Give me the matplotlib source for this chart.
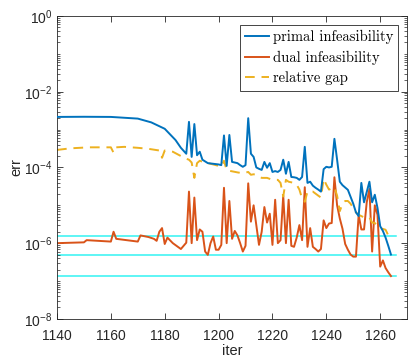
import numpy as np
import matplotlib
matplotlib.use("Agg")
from matplotlib import pyplot as plt
from matplotlib.ticker import LogLocator, NullFormatter, FixedLocator

plt.rcParams['font.family'] = ['Liberation Sans', 'DejaVu Sans']
plt.rcParams['mathtext.fontset'] = 'custom'
plt.rcParams['mathtext.rm'] = 'Liberation Sans'
plt.rcParams['axes.unicode_minus'] = False

# primal infeasibility
iter_p = [1140, 1150, 1160, 1170, 1175, 1180, 1184, 1186, 1188, 1189, 1190, 1191, 1192,
          1193, 1194, 1196, 1200, 1201, 1202, 1203, 1204, 1205, 1207, 1208, 1209, 1210,
          1211, 1212, 1213, 1214, 1215, 1216, 1217, 1218, 1219, 1220, 1221, 1222, 1223,
          1224, 1225, 1226, 1227, 1228, 1229, 1230, 1231, 1232, 1233, 1234, 1235, 1236,
          1237, 1238, 1239, 1240, 1241, 1242, 1243, 1244, 1245, 1246, 1248, 1250, 1251,
          1252, 1253, 1254, 1256, 1257, 1258, 1259, 1260, 1261, 1262, 1263, 1264]
primal = [2.16e-3, 2.18e-3, 2.16e-3, 1.95e-3, 1.55e-3, 1.05e-3, 5.3e-4, 3.3e-4, 2.3e-4,
          1.6e-3, 1.9e-4, 1.4e-3, 2.1e-4, 2.6e-4, 1.6e-4, 1.3e-4, 1.2e-4, 1.15e-4, 7.0e-4,
          1.1e-4, 7.2e-4, 1.4e-4, 1.3e-4, 1.15e-4, 1.04e-4, 1.15e-4, 2.0e-3, 2.3e-4,
          1.9e-4, 1.0e-4, 9.2e-5, 8.6e-5, 1.4e-4, 9.8e-5, 1.3e-4, 7.6e-5, 8.0e-5, 7.6e-5,
          8.6e-5, 1.6e-4, 6.8e-5, 1.4e-4, 5.6e-5, 5.5e-5, 5.3e-5, 4.7e-5, 5.6e-5, 3.5e-4,
          3.9e-5, 4.2e-5, 3.3e-5, 2.9e-5, 2.6e-5, 2.3e-5, 9.0e-5, 1.04e-4, 1.0e-4, 1.04e-4,
          5.7e-4, 1.6e-4, 4.2e-5, 3.4e-5, 2.56e-5, 1.1e-5, 6.5e-6, 5.2e-6, 3.9e-5, 1.2e-5,
          4.2e-5, 1.2e-5, 1.9e-5, 8.5e-6, 2.8e-6, 2.1e-6, 1.4e-6, 8.5e-7, 5.0e-7]

# dual infeasibility
iter_d = [1140, 1150, 1151, 1160, 1161, 1162, 1170, 1171, 1174, 1176, 1177, 1178, 1179,
          1180, 1181, 1183, 1186, 1188, 1189, 1190, 1191, 1192, 1193, 1194, 1195, 1196,
          1197, 1198, 1199, 1200, 1201, 1202, 1203, 1204, 1205, 1206, 1207, 1208, 1209,
          1210, 1211, 1212, 1213, 1214, 1215, 1216, 1217, 1218, 1219, 1220, 1221, 1222,
          1223, 1224, 1225, 1226, 1227, 1228, 1229, 1230, 1231, 1232, 1233, 1234, 1235,
          1236, 1237, 1238, 1239, 1240, 1241, 1242, 1243, 1244, 1245, 1246, 1247, 1248,
          1249, 1250, 1251, 1252, 1253, 1254, 1255, 1256, 1257, 1258, 1259, 1260, 1261,
          1262, 1263, 1264]
dual = [1.0e-6, 1.05e-6, 1.2e-6, 1.1e-6, 2.0e-6, 1.3e-6, 1.1e-6, 1.6e-6, 1.45e-6, 1.3e-6,
        1.15e-6, 2.0e-6, 2.5e-6, 9.5e-7, 1.4e-6, 1.0e-6, 7.0e-7, 1.03e-6, 2.3e-5, 1.0e-6,
        1.6e-5, 1.2e-6, 2.3e-6, 2.0e-6, 6.0e-7, 4.9e-7, 1.0e-6, 1.5e-6, 6.7e-7, 6.7e-7,
        9.0e-7, 2.9e-5, 1.0e-6, 1.3e-5, 1.3e-6, 2.1e-6, 1.6e-6, 1.0e-6, 6.0e-7, 8.5e-7,
        3.8e-5, 3.7e-6, 1.0e-5, 3.0e-6, 9.0e-7, 2.0e-6, 9.0e-6, 3.5e-6, 6.0e-6, 9.0e-7,
        1.4e-5, 1.0e-6, 1.2e-6, 1.8e-5, 1.0e-6, 1.4e-5, 8.5e-7, 8.0e-7, 1.4e-6, 3.0e-6,
        1.2e-6, 3.0e-5, 8.0e-7, 2.5e-6, 8.0e-7, 7.0e-7, 6.0e-7, 7.0e-7, 4.0e-6, 2.5e-6,
        3.3e-6, 3.4e-6, 5.5e-5, 1.0e-5, 4.5e-6, 2.4e-6, 9.5e-7, 6.7e-7, 5.0e-7, 4.4e-7,
        4.4e-7, 5.6e-6, 2.3e-6, 2.3e-6, 1.2e-5, 2.7e-5, 6.0e-7, 1.0e-5, 5.6e-6, 2.4e-7,
        3.5e-7, 2.2e-7, 1.7e-7, 1.35e-7]

# relative gap
iter_g = [1140, 1145, 1152, 1160, 1161, 1162, 1165, 1170, 1174, 1178, 1179, 1180, 1181,
          1183, 1186, 1188, 1189, 1190, 1191, 1192, 1193, 1195, 1198, 1200, 1201, 1202,
          1203, 1205, 1207, 1209, 1211, 1212, 1213, 1214, 1216, 1218, 1220, 1222, 1223,
          1224, 1225, 1226, 1228, 1229, 1230, 1231, 1232, 1233, 1235, 1237, 1238, 1239,
          1240, 1241, 1242, 1243, 1244, 1245, 1246, 1247, 1248, 1249, 1250, 1251, 1252,
          1254, 1256, 1257, 1258, 1259, 1260, 1262, 1263]
gap = [2.9e-4, 3.2e-4, 3.4e-4, 3.4e-4, 2.45e-4, 3.4e-4, 3.5e-4, 3.3e-4, 3.1e-4, 2.8e-4,
       1.8e-4, 2.8e-4, 2.74e-4, 2.6e-4, 2.0e-4, 1.7e-4, 1.6e-4, 1.35e-4, 5.3e-5, 1.3e-4,
       1.5e-4, 1.35e-4, 1.2e-4, 1.1e-4, 1.05e-4, 1.5e-4, 8.4e-5, 7.9e-5, 7.4e-5, 7.0e-5,
       7.6e-5, 6.4e-5, 6.6e-5, 6.4e-5, 5.3e-5, 5.3e-5, 4.7e-5, 4.7e-5, 3.9e-5, 1.7e-5,
       4.7e-5, 4.2e-5, 3.9e-5, 3.5e-5, 2.6e-5, 1.5e-5, 1.24e-5, 2.3e-5, 2.3e-5, 1.8e-5,
       1.6e-5, 5.0e-5, 3.5e-5, 2.6e-5, 2.8e-5, 3.0e-5, 1.8e-5, 7.0e-6, 1.1e-5, 1.3e-5,
       1.3e-5, 1.1e-5, 8.5e-6, 6.5e-6, 5.6e-6, 4.8e-6, 4.8e-6, 3.5e-6, 3.4e-6, 2.9e-6,
       2.5e-6, 2.26e-6, 1.6e-6]

# tolerance levels
tol_levels = [1.58e-6, 4.9e-7, 1.38e-7]
tol_range = [1140, 1266]

fig = plt.figure(figsize=(4.10, 3.64), dpi=100)
ax = fig.add_axes([0.139, 0.124, 0.854, 0.832])

for t in tol_levels:
    ax.plot(tol_range, [t, t], color='#33f3f3', lw=1.1, zorder=1)

ax.plot(iter_p, primal, color='#0072BD', lw=1.4, label='primal infeasibility', zorder=3)
ax.plot(iter_d, dual, color='#D95319', lw=1.4, label='dual infeasibility', zorder=2)
ax.plot(iter_g, gap, color='#EDB120', lw=1.4, ls=(0, (5, 3.5)), label='relative gap', zorder=2)

ax.set_yscale('log')
ax.set_xlim(1140, 1270)
ax.set_ylim(1e-8, 1e0)
ax.set_xticks(np.arange(1140, 1261, 20))
ax.yaxis.set_major_locator(FixedLocator([1e-8, 1e-6, 1e-4, 1e-2, 1e0]))
ax.yaxis.set_minor_locator(LogLocator(base=10, subs=np.arange(1, 10), numticks=100))
ax.yaxis.set_minor_formatter(NullFormatter())

ax.tick_params(which='both', direction='in', top=True, right=True, labelsize=10,
               color='#262626', labelcolor='#262626')
ax.tick_params(which='major', length=4.5, width=0.6)
ax.tick_params(which='minor', length=2.5, width=0.5)
ax.tick_params(axis='x', pad=7)
for s in ax.spines.values():
    s.set_linewidth(0.6)
    s.set_color('#262626')

ax.set_xlabel('iter', fontsize=10.5, color='#262626', labelpad=1)
ax.set_ylabel('err', fontsize=10.5, color='#262626', labelpad=0)

leg = ax.legend(loc='upper right', prop={'family': 'cmr10', 'size': 10.5},
                fancybox=False, edgecolor='#262626', handlelength=1.6, handletextpad=0.3,
                borderpad=0.35, labelspacing=0.45, borderaxespad=0.6, framealpha=1)
leg.get_frame().set_linewidth(0.6)

fig.savefig('out.png', dpi=100)
